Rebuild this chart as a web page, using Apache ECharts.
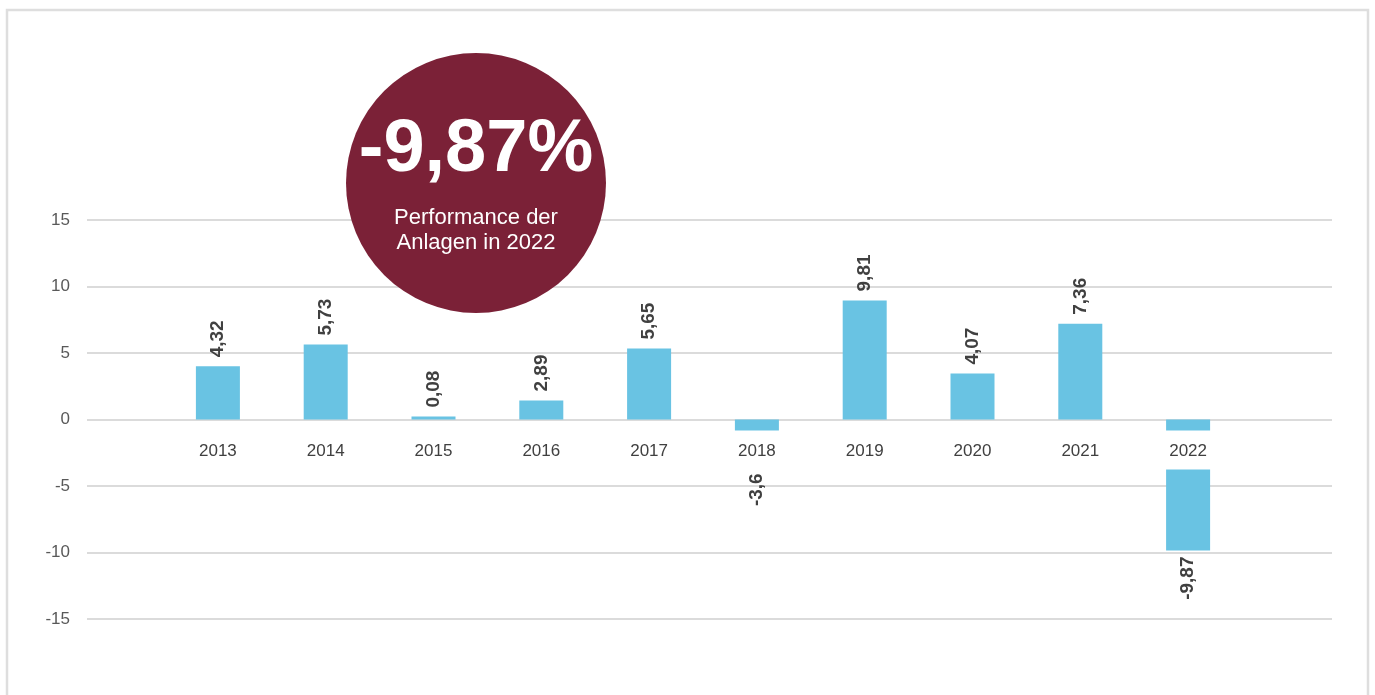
<!DOCTYPE html>
<html>
<head>
<meta charset="utf-8">
<script src="https://cdn.jsdelivr.net/npm/echarts@6/dist/echarts.min.js"></script>
<style>
  html, body { margin: 0; padding: 0; background: #fff; }
  #chart { width: 1375px; height: 695px; }
</style>
</head>
<body>
<div id="chart"></div>
<script>
// Years (categories)
const years = ['2013', '2014', '2015', '2016', '2017', '2018', '2019', '2020', '2021', '2022'];
// Bar heights as drawn in the picture
const barHeights = [4.0, 5.63, 0.22, 1.43, 5.33, -3.6, 8.95, 3.45, 7.2, -9.85];
// Printed performance values (data labels)
const labelValues = [4.32, 5.73, 0.08, 2.89, 5.65, -3.6, 9.81, 4.07, 7.36, -9.87];
// Y axis range / ticks
const yMin = -15, yMax = 15, yStep = 5;
// Highlight bubble text
const bubbleValue = '-9,87%';
const bubbleText = 'Performance der\nAnlagen in 2022';

const FONT = "'Liberation Sans', Arial, sans-serif";
const fmt = v => String(v).replace('.', ',');

const GRID_TOP = 220, GRID_BOTTOM = 76, H = 695;
const plotH = H - GRID_TOP - GRID_BOTTOM;
// move the category axis up to the zero line
const zeroOffset = -plotH * (0 - yMin) / (yMax - yMin);

const chart = echarts.init(document.getElementById('chart'), null, { renderer: 'canvas' });

const data = barHeights.map((v, i) => ({
  value: v,
  label: v >= 0
    ? { position: 'top', align: 'left', verticalAlign: 'middle', distance: 9 }
    : { position: 'bottom', align: 'right', verticalAlign: 'middle', distance: 6 }
}));

chart.setOption({
  animation: false,
  backgroundColor: '#ffffff',
  grid: [
    { left: 164, right: 133, top: GRID_TOP, bottom: GRID_BOTTOM },
    { left: 87, right: 43, top: GRID_TOP, bottom: GRID_BOTTOM }
  ],
  xAxis: [
    {
      type: 'category',
      gridIndex: 0,
      data: years,
      position: 'bottom',
      offset: zeroOffset,
      z: 10,
      axisLine: { show: false, onZero: false },
      axisTick: { show: false },
      splitLine: { show: false },
      axisLabel: {
        margin: 11,
        fontFamily: FONT,
        fontSize: 17,
        color: '#404040',
        lineHeight: 18,
        backgroundColor: '#ffffff',
        padding: [12, 5, 9, 5]
      }
    },
    {
      type: 'value',
      gridIndex: 1,
      min: 0,
      max: 1,
      show: false
    }
  ],
  yAxis: [
    {
      type: 'value',
      gridIndex: 0,
      min: yMin,
      max: yMax,
      interval: yStep,
      show: false
    },
    {
      type: 'value',
      gridIndex: 1,
      min: yMin,
      max: yMax,
      interval: yStep,
      axisLine: { show: false },
      axisTick: { show: false },
      splitLine: { show: true, lineStyle: { color: '#CFCFCF', width: 1.5 } },
      axisLabel: {
        margin: 17,
        fontFamily: FONT,
        fontSize: 17,
        color: '#595959'
      }
    }
  ],
  series: [
    {
      type: 'bar',
      xAxisIndex: 0,
      yAxisIndex: 0,
      data: data,
      barWidth: 44,
      itemStyle: { color: '#69C3E3' },
      label: {
        show: true,
        rotate: 90,
        fontFamily: FONT,
        fontSize: 19,
        fontWeight: 'bold',
        color: '#404040',
        formatter: p => fmt(labelValues[p.dataIndex])
      }
    }
  ],
  graphic: [
    {
      type: 'rect',
      z: 0,
      silent: true,
      shape: { x: 7, y: 10, width: 1361, height: 720 },
      style: { fill: 'none', stroke: '#DEDEDE', lineWidth: 2.5 }
    },
    {
      type: 'circle',
      z: 100,
      silent: true,
      shape: { cx: 476, cy: 183, r: 130 },
      style: { fill: '#7B2137' }
    },
    {
      type: 'text',
      z: 101,
      silent: true,
      x: 476,
      y: 151,
      style: {
        text: bubbleValue,
        fill: '#ffffff',
        font: "bold 74px " + FONT,
        align: 'center',
        verticalAlign: 'middle'
      }
    },
    {
      type: 'text',
      z: 101,
      silent: true,
      x: 476,
      y: 230,
      style: {
        text: bubbleText,
        fill: '#ffffff',
        font: "22px " + FONT,
        lineHeight: 25,
        align: 'center',
        verticalAlign: 'middle'
      }
    }
  ]
});
</script>
</body>
</html>
